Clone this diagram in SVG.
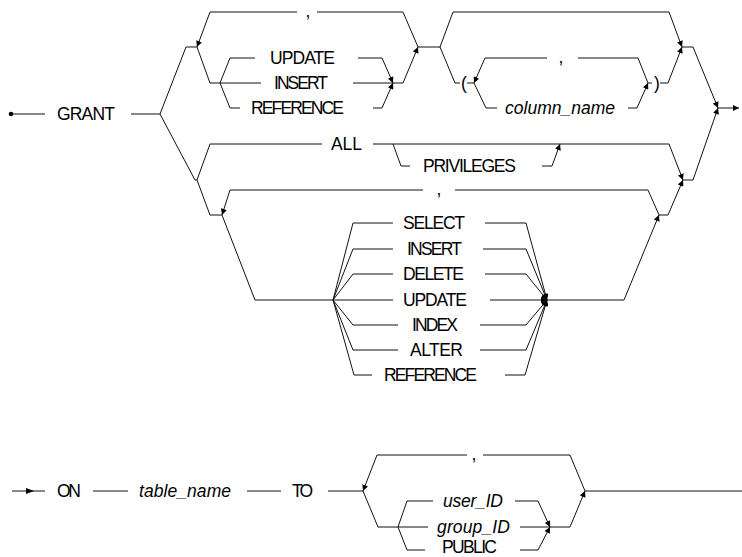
<svg xmlns="http://www.w3.org/2000/svg" width="742" height="557" viewBox="0 0 742 557">
<style>
text{font-family:"Liberation Sans",Arial,sans-serif;font-size:17.5px;fill:#000}
.it{font-style:italic}
.cm{text-anchor:middle}
.c path{fill:none;stroke:#111;stroke-width:1}
.c .a{marker-end:url(#ah)}
.c .h{fill:#000;stroke:none}
</style>
<defs>
<marker id="ah" viewBox="0 0 10 10" refX="10" refY="5" markerWidth="8" markerHeight="6" markerUnits="userSpaceOnUse" orient="auto">
<path d="M0,0 L10,5 L0,10 z" fill="#000"/>
</marker>
</defs>
<rect width="742" height="557" fill="#fff"/>
<g id="connectors" class="c">
<circle cx="11" cy="114" r="2.3" fill="#000"/>
<path d="M11,114 L45,114"/>
<path d="M131,114 L160,114"/>
<path d="M160,114 L186,47 L197,47"/>
<path d="M418,47 L403,12 L317,12"/>
<path class="a" d="M297,12 L210,12 L197,47"/>
<path d="M197,47 L210,83 L261,83"/>
<path d="M220,83 L230,58 L255,58"/>
<path d="M220,83 L230,108 L240,108"/>
<path class="a" d="M358,58 L382,58 L393,83"/>
<path class="a" d="M373,108 L382,108 L393,83"/>
<path class="a" d="M353,83 L403,83 L418,47"/>
<path d="M418,47 L440,47"/>
<path class="a" d="M440,47 L453,12 L669,12 L682,47"/>
<path d="M440,47 L455,83 L460,83"/>
<path d="M467,83 L474,83"/>
<path d="M474,83 L486,108 L497,108"/>
<path class="a" d="M547,58 L485,58 L474,83"/>
<path d="M648,83 L638,58 L578,58"/>
<path class="a" d="M628,108 L637,108 L648,83"/>
<path d="M648,83 L652,83"/>
<path class="a" d="M660,83 L668,83 L682,47"/>
<path class="a" d="M682,47 L693,47 L718,108"/>
<path class="a" d="M718,108 L739,108"/>
<path d="M160,114 L195,180 L197,180"/>
<path d="M197,180 L210,144 L322,144"/>
<path class="a" d="M373,144 L669,144 L683,180"/>
<path d="M393,144 L401,166 L410,166"/>
<path class="a" d="M542,166 L552,166 L560,144"/>
<path class="a" d="M683,180 L693,180 L718,108"/>
<path d="M197,180 L210,215 L222,215 L255,300 L333,300"/>
<path d="M659,215 L648,190 L455,190"/>
<path class="a" d="M423,190 L230,190 L222,215"/>
<path d="M333,300 L353,223 L393,223"/>
<path d="M333,300 L353,249 L393,249"/>
<path d="M333,300 L353,274 L393,274"/>
<path d="M333,300 L393,300"/>
<path d="M333,300 L353,325 L398,325"/>
<path d="M333,300 L353,350 L398,350"/>
<path d="M333,300 L354,375 L372,375"/>
<path class="a" d="M485,223 L526,223 L547,300"/>
<path class="a" d="M483,249 L526,249 L547,300"/>
<path class="a" d="M485,274 L526,274 L547,300"/>
<path class="a" d="M490,300 L547,300"/>
<path class="a" d="M480,325 L526,325 L547,300"/>
<path class="a" d="M480,350 L526,350 L547,300"/>
<path class="a" d="M505,375 L525,375 L547,300"/>
<path class="a" d="M547,300 L624,300 L659,215"/>
<path class="a" d="M659,215 L668,215 L683,180"/>
<path d="M12,491 L45,491"/>
<path class="h" d="M26,488 L34,491 L26,494 z"/>
<path d="M93,491 L128,491"/>
<path d="M247,491 L281,491"/>
<path d="M328,491 L363,491"/>
<path d="M585,491 L570,455 L483,455"/>
<path class="a" d="M467,455 L377,455 L363,491"/>
<path d="M363,491 L378,527 L428,527"/>
<path d="M398,527 L407,501 L433,501"/>
<path d="M398,527 L407,550 L425,550"/>
<path class="a" d="M515,501 L538,501 L550,527"/>
<path class="a" d="M520,550 L538,550 L550,527"/>
<path class="a" d="M520,527 L570,527 L585,491"/>
<path d="M585,491 L742,491"/>
</g>
<g id="n-grant"><text x="57" y="120" textLength="58">GRANT</text></g>
<g id="n-update1"><text x="270" y="64" textLength="65">UPDATE</text></g>
<g id="n-insert1"><text x="274" y="89" textLength="54">INSERT</text></g>
<g id="n-reference1"><text x="251" y="114" textLength="93">REFERENCE</text></g>
<g id="n-comma1"><text class="cm" x="308" y="17">,</text></g>
<g id="n-lparen"><text x="461" y="89">(</text></g>
<g id="n-comma2"><text class="cm" x="561" y="63">,</text></g>
<g id="n-column_name"><text class="it" x="505" y="114" textLength="110">column_name</text></g>
<g id="n-rparen"><text x="654" y="89">)</text></g>
<g id="n-all"><text x="331" y="150" textLength="31">ALL</text></g>
<g id="n-privileges"><text x="423" y="172" textLength="93">PRIVILEGES</text></g>
<g id="n-comma3"><text class="cm" x="439" y="195">,</text></g>
<g id="n-select"><text x="403" y="229" textLength="62">SELECT</text></g>
<g id="n-insert2"><text x="407" y="255" textLength="55">INSERT</text></g>
<g id="n-delete"><text x="403" y="280" textLength="61">DELETE</text></g>
<g id="n-update2"><text x="403" y="306" textLength="64">UPDATE</text></g>
<g id="n-index"><text x="412" y="331" textLength="46">INDEX</text></g>
<g id="n-alter"><text x="410" y="356" textLength="53">ALTER</text></g>
<g id="n-reference2"><text x="384" y="381" textLength="93">REFERENCE</text></g>
<g id="n-on"><text x="57" y="497" textLength="24">ON</text></g>
<g id="n-table_name"><text class="it" x="139" y="497" textLength="92">table_name</text></g>
<g id="n-to"><text x="292" y="497" textLength="21">TO</text></g>
<g id="n-comma4"><text class="cm" x="474" y="460">,</text></g>
<g id="n-user_id"><text class="it" x="443" y="507" textLength="60">user_ID</text></g>
<g id="n-group_id"><text class="it" x="437" y="533" textLength="73">group_ID</text></g>
<g id="n-public"><text x="442" y="553" textLength="55">PUBLIC</text></g>
</svg>
